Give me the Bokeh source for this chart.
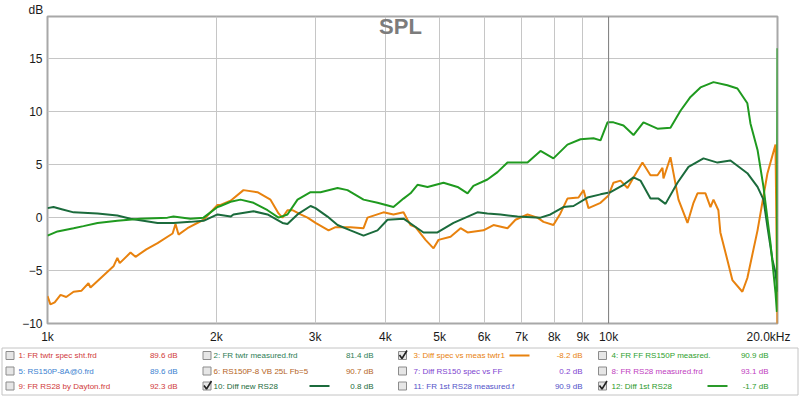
from bokeh.plotting import figure
from bokeh.models import Range1d, FixedTicker, Span, Label, ColumnDataSource
from bokeh.core.properties import value
from bokeh.embed import file_html
from bokeh.resources import INLINE

FONT = "Liberation Sans"

# ---------------- data ----------------
# 3: Diff spec vs meas twtr1 (orange)
diff_spec_f = [1000, 1012, 1030, 1055, 1080, 1113, 1150, 1183, 1193, 1250, 1311, 1332, 1345,
               1406, 1435, 1500, 1571, 1671, 1691, 1712, 1776, 1897, 2009, 2034, 2120, 2235,
               2367, 2497, 2581, 2623, 2677, 2733, 2825, 2907, 3004, 3169, 3261, 3467, 3658,
               3718, 3970, 4136, 4310, 4381, 4436, 4528, 4718, 4875, 4976, 5228, 5447, 5606,
               5984, 6235, 6604, 6824, 7170, 7469, 7656, 7974, 8206, 8446, 8839, 9022, 9208,
               9674, 9996, 10203, 10501, 10807, 11076, 11491, 11875, 12221, 12475, 12526,
               12891, 13051, 13322, 13824, 14168, 14402, 14882, 15191, 15379, 15691, 15820,
               16281, 16618, 17314, 17673, 18427, 19194, 19837, 20000]
diff_spec_db = [-7.4, -8.2, -8.0, -7.3, -7.5, -7.0, -6.9, -6.2, -6.6, -5.6, -4.6, -3.8, -4.3,
                -3.3, -3.7, -3.0, -2.4, -1.5, -0.6, -1.6, -1.0, -0.2, 1.2, 1.2, 1.6, 2.6,
                2.4, 1.7, 0.4, 0.0, 0.7, 0.7, 0.3, 0.0, -0.5, -1.2, -0.9, -0.9, -1.0,
                0.0, 0.5, 0.3, 0.5, -0.2, -0.7, -0.9, -2.1, -2.9, -2.1, -1.8, -1.0, -1.4,
                -1.2, -0.7, -1.0, -0.2, 0.3, 0.0, -0.4, -0.7, 0.4, 1.8, 1.9, 2.6, 0.9,
                1.4, 2.1, 3.3, 3.5, 2.8, 3.8, 5.2, 4.0, 4.0, 4.7, 3.7,
                5.7, 4.2, 1.7, -0.5, 1.4, 2.3, 2.3, 1.0, 1.7, 0.7, -1.4,
                -4.0, -5.9, -7.0, -5.7, -1.2, 4.2, 6.9, -10.5]

# 10: Diff new RS28 (dark green)
diff_new_f = [1000, 1025, 1060, 1113, 1228, 1332, 1406, 1571, 1677, 1798, 1897, 2009, 2120,
              2145, 2329, 2467, 2623, 2677, 2790, 2943, 3004, 3155, 3288, 3467, 3658, 3874,
              4036, 4310, 4450, 4679, 4955, 5292, 5837, 6082, 6417, 6881, 7562, 7877, 8308,
              8660, 9170, 9674, 10079, 10630, 11076, 11397, 11875, 12271, 12630, 13267,
              13881, 14761, 15633, 16487, 17673, 18427, 18882, 19194, 19594, 19837, 20000]
diff_new_db = [0.9, 1.0, 0.8, 0.5, 0.4, 0.2, -0.1, -0.5, -0.5, -0.4, -0.3, 0.3, 0.1,
               0.3, 0.6, 0.3, -0.5, -0.6, 0.3, 1.1, 0.9, 0.1, -0.7, -1.2, -1.7, -1.2,
               -0.2, -0.1, -0.6, -1.4, -1.4, -0.5, 0.5, 0.4, 0.3, 0.1, 0.0, 0.3, 1.0,
               1.1, 1.9, 2.2, 2.4, 3.1, 3.8, 3.5, 1.8, 1.8, 1.3, 3.3,
               4.8, 5.6, 5.2, 5.4, 4.2, 2.9, 1.7, -0.9, -4.0, -5.2, -7.0]

# 12: Diff 1st RS28 (green)
diff_1st_f = [1000, 1042, 1113, 1159, 1228, 1332, 1465, 1636, 1677, 1798, 1897, 1952, 2009,
              2034, 2120, 2208, 2329, 2467, 2581, 2677, 2790, 2943, 3066, 3288, 3425, 3658,
              3874, 4136, 4310, 4436, 4565, 4757, 5079, 5380, 5606, 5742, 6082, 6339, 6604,
              7170, 7562, 7974, 8446, 8911, 9400, 9674, 9955, 10203, 10630, 11076, 11538,
              12221, 12891, 13432, 13995, 14580, 15379, 16281, 16968, 17673, 17898, 18427,
              18882, 19433, 19837, 19950, 20000]
diff_1st_db = [-1.7, -1.3, -1.0, -0.8, -0.5, -0.3, -0.1, 0.0, 0.1, -0.1, 0.0, 0.5, 1.0,
               1.1, 1.5, 1.7, 1.4, 0.7, 0.0, 0.3, 1.7, 2.4, 2.4, 2.8, 2.6, 1.7,
               1.4, 1.0, 1.8, 2.3, 3.1, 2.9, 3.3, 2.9, 2.3, 3.0, 3.6, 4.3, 5.2,
               5.2, 6.3, 5.6, 6.9, 7.4, 7.5, 7.3, 9.0, 9.0, 8.7, 7.8, 9.0,
               8.4, 8.5, 10.1, 11.4, 12.3, 12.8, 12.5, 12.2, 10.8, 8.9, 6.4,
               2.9, -2.4, -7.1, -8.9, 16.0]

x_ticks = [1000, 2000, 3000, 4000, 5000, 6000, 7000, 8000, 9000, 10000, 20000]
x_tick_labels = ["1k", "2k", "3k", "4k", "5k", "6k", "7k", "8k", "9k", "10k", "20.0kHz"]
y_ticks = [-10, -5, 0, 5, 10, 15]
y_unit = "dB"

legend_labels = ["1: FR twtr spec sht.frd", "2: FR twtr measured.frd", "3: Diff spec vs meas twtr1",
                 "4: FR FF RS150P measred.", "5: RS150P-8A@0.frd", "6: RS150P-8 VB 25L Fb=5",
                 "7: Diff RS150 spec vs FF", "8: FR RS28 measured.frd", "9: FR RS28 by Dayton.frd",
                 "10: Diff new RS28", "11: FR 1st RS28 measured.f", "12: Diff 1st RS28"]
legend_values = ["89.6 dB", "81.4 dB", "-8.2 dB", "90.9 dB", "89.6 dB", "90.7 dB",
                 "0.2 dB", "93.1 dB", "92.3 dB", "0.8 dB", "90.9 dB", "-1.7 dB"]
legend_colors = ["#d03a3a", "#2e7d55", "#e8820e", "#2ea02e", "#3a7fd0", "#b5651d",
                 "#8044d0", "#c040c0", "#d03a3a", "#1b6b3c", "#5252c8", "#2a9a2a"]
legend_checked = [False, False, True, False, False, False,
                  False, False, False, True, False, True]

ORANGE = "#e8820e"
DKGREEN = "#1b6b3c"
GREEN = "#1f9a1f"

# ---------------- main plot ----------------
p = figure(width=800, height=346, x_axis_type="log",
           x_range=Range1d(1000, 20000), y_range=Range1d(-10, 19.0),
           output_backend="svg", toolbar_location=None,
           min_border_left=47, min_border_right=23, min_border_top=14, min_border_bottom=21,
           background_fill_color="white", border_fill_color="white")
p.outline_line_color = "#a8a8a8"
p.outline_line_width = 2

# unit label at the top left, drawn as the figure title
p.title.text = y_unit
p.title.align = "left"
p.title.offset = -19
p.title.standoff = 0
p.title.text_font = FONT
p.title.text_font_size = "12px"
p.title.text_font_style = "normal"
p.title.text_color = "#1a1a1a"

p.xaxis.ticker = FixedTicker(ticks=x_ticks)
p.xaxis.major_label_overrides = {t: (l if t != 20000 else l + "\u00a0\u00a0\u00a0")
                                 for t, l in zip(x_ticks, x_tick_labels)}
p.yaxis.ticker = FixedTicker(ticks=y_ticks)
for ax in (p.xaxis, p.yaxis):
    ax.axis_line_color = None
    ax.major_tick_line_color = None
    ax.minor_tick_line_color = None
    ax.major_tick_out = 0
    ax.major_tick_in = 0
    ax.minor_tick_out = 0
    ax.minor_tick_in = 0
    ax.major_label_text_font = FONT
    ax.major_label_text_font_size = "12px"
    ax.major_label_text_color = "#1a1a1a"
p.xaxis.major_label_standoff = 6
p.yaxis.major_label_standoff = 5

p.xgrid.ticker = FixedTicker(ticks=x_ticks[1:9])
p.xgrid.grid_line_color = "#c6c6c6"
p.ygrid.ticker = FixedTicker(ticks=y_ticks[1:])
p.ygrid.grid_line_color = "#c6c6c6"
p.add_layout(Span(location=10000, dimension="height", line_color="#7a7a7a", line_width=1))

p.line(diff_spec_f, diff_spec_db, line_color=ORANGE, line_width=2)
p.line(diff_new_f, diff_new_db, line_color=DKGREEN, line_width=2)
p.line(diff_1st_f, diff_1st_db, line_color=GREEN, line_width=2)

p.add_layout(Label(x=4257, y=19.0, text="SPL", text_align="center", text_baseline="top",
                   y_offset=3, text_font=FONT, text_font_style="bold",
                   text_font_size="22px", text_color="#7c7c7c"))

# ---------------- legend panel (separate root, not frame-aligned) ----------------
lg = figure(width=800, height=50, x_range=Range1d(0, 800), y_range=Range1d(396, 346),
            x_axis_location=None, y_axis_location=None, toolbar_location=None,
            output_backend="svg", min_border=0, outline_line_color=None,
            background_fill_color="white", border_fill_color="white")
lg.grid.visible = False

cb_x = [9.5, 206.5, 402, 602]
lab_x = [18, 213, 413, 611]
val_x = [177, 373, 582, 768]
row_y = [355, 370.5, 385.5]

lg.quad(left=[1.5], right=[797.5], top=[347.5], bottom=[394.5],
        fill_color="white", line_color="#c4c4c4", line_width=1)

cx = [cb_x[i % 4] for i in range(12)]
cy = [row_y[i // 4] for i in range(12)]
src = ColumnDataSource(dict(cx=cx, cy=cy, lx=[lab_x[i % 4] for i in range(12)],
                            vx=[val_x[i % 4] for i in range(12)],
                            label=legend_labels, val=legend_values, color=legend_colors))
lg.rect(x="cx", y="cy", width=8, height=8, source=src, fill_color="#e6e6e6",
        line_color="#8c8c8c", line_width=1)
lg.text(x="lx", y="cy", text="label", source=src, text_color="color", text_font=value(FONT),
        text_font_size="8px", text_baseline="middle", text_align="left")
lg.text(x="vx", y="cy", text="val", source=src, text_color="color", text_font=value(FONT),
        text_font_size="8px", text_baseline="middle", text_align="right")

chk = [i for i in range(12) if legend_checked[i]]
lg.multi_line(xs=[[cx[i] - 3, cx[i] - 0.5, cx[i] + 4.5] for i in chk],
              ys=[[cy[i] - 0.5, cy[i] + 3, cy[i] - 5] for i in chk],
              line_color="#222222", line_width=1.6)
lg.segment(x0=[lab_x[i % 4] + 96 for i in chk], x1=[lab_x[i % 4] + 116 for i in chk],
           y0=[cy[i] for i in chk], y1=[cy[i] for i in chk],
           line_color=[legend_colors[i] for i in chk], line_width=2)

open("out.html", "w").write(file_html([p, lg], INLINE, "SPL"))
